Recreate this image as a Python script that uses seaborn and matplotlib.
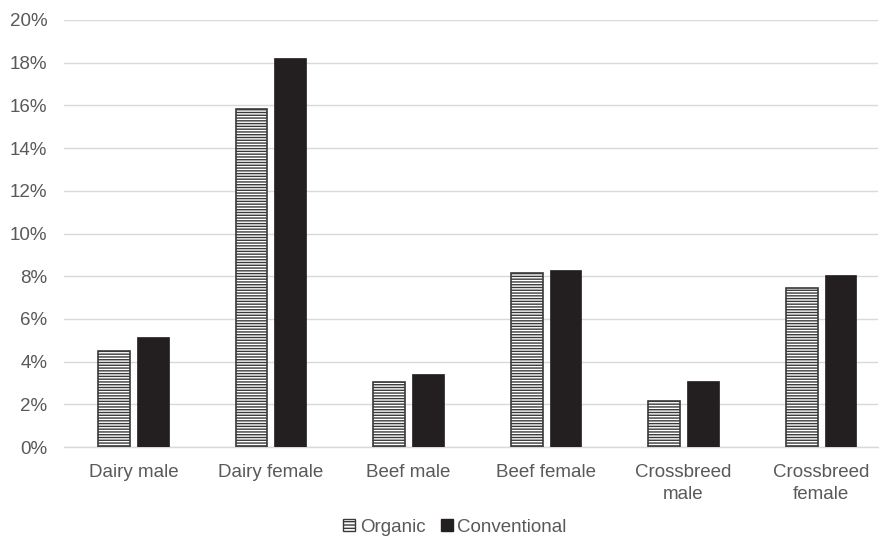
import matplotlib
matplotlib.use("Agg")
import matplotlib.pyplot as plt
import seaborn as sns
import pandas as pd
from matplotlib.ticker import PercentFormatter
from matplotlib.patches import Patch

categories = ["Dairy male", "Dairy female", "Beef male", "Beef female",
              "Crossbreed\nmale", "Crossbreed\nfemale"]
organic = [4.50, 15.83, 3.04, 8.15, 2.15, 7.45]
conventional = [5.15, 18.22, 3.42, 8.29, 3.09, 8.06]
series = ["Organic", "Conventional"]

df = pd.DataFrame({
    "category": categories * 2,
    "system": [series[0]] * len(categories) + [series[1]] * len(categories),
    "value": organic + conventional,
})

sns.set_theme(style="white")
plt.rcParams["font.family"] = ["Liberation Sans", "DejaVu Sans"]
plt.rcParams["hatch.linewidth"] = 1.0

text_color = "#595959"
grid_color = "#d9d9d9"
dark = "#231f20"
hatch_edge = "#3a3a3a"

fig = plt.figure(figsize=(8.8, 5.4), dpi=100)
ax = fig.add_axes([64 / 880, (540 - 447) / 540, (878 - 64) / 880, (447 - 20) / 540])

sns.barplot(data=df, x="category", y="value", hue="system",
            palette={"Organic": "white", "Conventional": dark},
            width=0.566, gap=0.18, ax=ax, legend=False, zorder=3)

n = len(categories)
for i, bar in enumerate(ax.patches):
    if i < n:
        bar.set_facecolor("#ffffff")
        bar.set_hatch("------")
        bar.set_edgecolor(hatch_edge)
        bar.set_linewidth(1.2)
    else:
        bar.set_facecolor(dark)
        bar.set_edgecolor(dark)
        bar.set_linewidth(0.5)

ax.set_ylim(0, 20)
ax.set_xlim(-0.505, 5.414)
ax.set_yticks(range(0, 21, 2))
ax.yaxis.set_major_formatter(PercentFormatter(decimals=0))
ax.grid(axis="y", color=grid_color, linewidth=1, zorder=0)
ax.set_axisbelow(True)
for s in ["top", "right", "left"]:
    ax.spines[s].set_visible(False)
ax.spines["bottom"].set_color(grid_color)
ax.spines["bottom"].set_linewidth(1)
ax.tick_params(axis="both", length=0, labelsize=13.5, colors=text_color)
ax.tick_params(axis="x", pad=12)
ax.tick_params(axis="y", pad=12)
for lbl in ax.get_xticklabels():
    lbl.set_linespacing(1.4)
ax.set_xlabel("")
ax.set_ylabel("")

handles = [
    Patch(facecolor="white", edgecolor=hatch_edge, hatch="-----", linewidth=1.0),
    Patch(facecolor=dark, edgecolor=dark),
]
leg = fig.legend(handles, series, loc="center", bbox_to_anchor=(0.517, 1 - 527 / 540),
                 ncol=2, frameon=False, fontsize=13.5, handlelength=0.65,
                 handleheight=0.65, handletextpad=0.25, columnspacing=0.8)
for t in leg.get_texts():
    t.set_color(text_color)

fig.savefig("out.png", dpi=100)
